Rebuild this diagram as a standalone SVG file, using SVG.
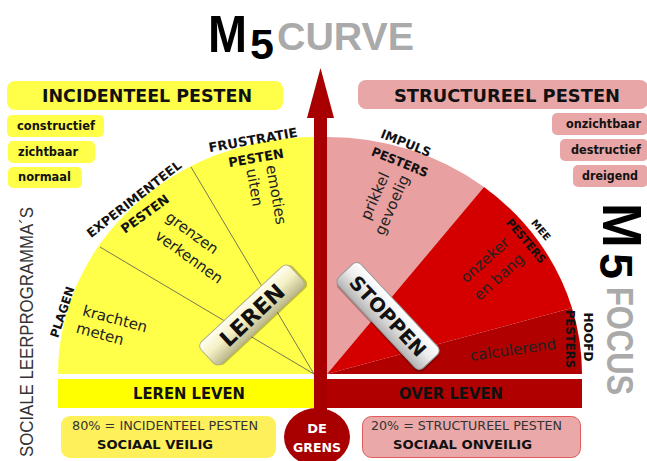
<svg xmlns="http://www.w3.org/2000/svg" width="647" height="461" viewBox="0 0 647 461">
<defs>
<style>
.b{font-family:"DejaVu Sans",Verdana,sans-serif;font-weight:bold;fill:#111}
.n{font-family:"DejaVu Sans",Verdana,sans-serif;fill:#222}
.t{font-family:"Liberation Sans",Arial,sans-serif;font-weight:bold}
.yb{fill:#ffff4a}
.pb{fill:#e8a6a6}
.ln{stroke:#555;stroke-width:0.8;fill:none}
</style>
<linearGradient id="gL" x1="0" y1="0" x2="0" y2="1">
<stop offset="0" stop-color="#fffef2"/><stop offset="0.45" stop-color="#f5f1c6"/><stop offset="1" stop-color="#bcb78a"/>
</linearGradient>
<linearGradient id="gS" x1="0" y1="0" x2="0" y2="1">
<stop offset="0" stop-color="#ffffff"/><stop offset="0.45" stop-color="#ececec"/><stop offset="1" stop-color="#b4b4b4"/>
</linearGradient>
</defs>
<rect width="647" height="461" fill="#fff"/>

<g id="title">
<text class="t" x="208" y="51.5" font-size="52" fill="#000" textLength="39" lengthAdjust="spacingAndGlyphs">M</text>
<text class="t" x="250" y="59" font-size="43" fill="#000">5</text>
<text class="t" x="277" y="50" font-size="39" fill="#aaa" textLength="137" lengthAdjust="spacingAndGlyphs">CURVE</text>
</g>

<g id="incidenteel-pesten">
<rect x="7" y="81" width="276" height="29" rx="8" class="yb"/>
<text class="b" x="147" y="102" font-size="17.5" text-anchor="middle" textLength="210" lengthAdjust="spacingAndGlyphs">INCIDENTEEL PESTEN</text>
</g>
<g id="constructief"><rect x="7" y="115" width="97" height="22" rx="5" class="yb"/><text class="b" x="17" y="130" font-size="11.5" textLength="78" lengthAdjust="spacingAndGlyphs">constructief</text></g>
<g id="zichtbaar"><rect x="8" y="141" width="87" height="22" rx="5" class="yb"/><text class="b" x="18" y="156" font-size="11.5" textLength="60" lengthAdjust="spacingAndGlyphs">zichtbaar</text></g>
<g id="normaal"><rect x="8" y="167" width="74" height="21" rx="5" class="yb"/><text class="b" x="18" y="181" font-size="11.5" textLength="53" lengthAdjust="spacingAndGlyphs">normaal</text></g>

<g id="structureel-pesten">
<rect x="358" y="80" width="290" height="29" rx="8" class="pb"/>
<text class="b" x="507" y="102" font-size="17.5" text-anchor="middle" textLength="226" lengthAdjust="spacingAndGlyphs">STRUCTUREEL PESTEN</text>
</g>
<g id="onzichtbaar"><rect x="552" y="113" width="96" height="22" rx="5" class="pb"/><text class="b" x="641" y="128" font-size="11.5" text-anchor="end" textLength="75" lengthAdjust="spacingAndGlyphs">onzichtbaar</text></g>
<g id="destructief"><rect x="560" y="139" width="88" height="22" rx="5" class="pb"/><text class="b" x="641" y="154" font-size="11.5" text-anchor="end" textLength="70" lengthAdjust="spacingAndGlyphs">destructief</text></g>
<g id="dreigend"><rect x="573" y="165" width="75" height="22" rx="5" class="pb"/><text class="b" x="638" y="180" font-size="11.5" text-anchor="end" textLength="56" lengthAdjust="spacingAndGlyphs">dreigend</text></g>

<g id="incidenteel-sector">
<path d="M314,374 L58,374 A256,237 0 0 1 314,137 Z" fill="#ffff4a"/>
<path class="ln" d="M100,247 L314,374 M191,167 L314,374"/>
<text class="b" transform="translate(253,140) rotate(-10)" y="4.5" font-size="13" text-anchor="middle" textLength="90" lengthAdjust="spacingAndGlyphs">FRUSTRATIE</text>
<text class="b" transform="translate(256,158) rotate(-10)" y="4.5" font-size="13" text-anchor="middle" textLength="56" lengthAdjust="spacingAndGlyphs">PESTEN</text>
<g transform="translate(266,166) rotate(80)">
<text class="n" x="0" y="0" font-size="15">emoties</text>
<text class="n" x="0" y="20" font-size="15">uiten</text>
</g>
<text class="b" transform="translate(134,199) rotate(-38)" y="4.5" font-size="12.5" text-anchor="middle" textLength="116" lengthAdjust="spacingAndGlyphs">EXPERIMENTEEL</text>
<text class="b" transform="translate(145,214) rotate(-36)" y="4.5" font-size="13" text-anchor="middle" textLength="56" lengthAdjust="spacingAndGlyphs">PESTEN</text>
<text class="n" transform="translate(192,233) rotate(36)" y="5" font-size="15" text-anchor="middle">grenzen</text>
<text class="n" transform="translate(189,257) rotate(36)" y="5" font-size="15" text-anchor="middle">verkennen</text>
<text class="b" transform="translate(62,312) rotate(-72)" y="4.5" font-size="12" text-anchor="middle" textLength="53" lengthAdjust="spacingAndGlyphs">PLAGEN</text>
<text class="n" transform="translate(115,319) rotate(15)" y="5" font-size="15" text-anchor="middle">krachten</text>
<text class="n" transform="translate(100,334) rotate(15)" y="5" font-size="15" text-anchor="middle">meten</text>
</g>

<g id="structureel-sector">
<path d="M327,374 L327,137 A255,237 0 0 1 484,187 Z" fill="#e8a0a0"/>
<path d="M327,374 L484,187 A255,237 0 0 1 572,308 Z" fill="#d40000"/>
<path d="M327,374 L572,308 A255,237 0 0 1 582,374 Z" fill="#b00000"/>
<text class="b" transform="translate(406,143) rotate(22)" y="4.5" font-size="12.5" text-anchor="middle" textLength="53" lengthAdjust="spacingAndGlyphs">IMPULS</text>
<text class="b" transform="translate(400,162) rotate(22)" y="4.5" font-size="12.5" text-anchor="middle" textLength="60" lengthAdjust="spacingAndGlyphs">PESTERS</text>
<text class="n" transform="translate(375,196) rotate(-66)" y="5" font-size="15" text-anchor="middle">prikkel</text>
<text class="n" transform="translate(392,205) rotate(-66)" y="5" font-size="15" text-anchor="middle">gevoelig</text>
<text class="b" transform="translate(541,230) rotate(50)" y="3.5" font-size="10" text-anchor="middle" textLength="24" lengthAdjust="spacingAndGlyphs">MEE</text>
<text class="b" transform="translate(526,241) rotate(50)" y="4" font-size="11.5" text-anchor="middle" textLength="54" lengthAdjust="spacingAndGlyphs">PESTERS</text>
<text class="n" transform="translate(485,260) rotate(-42)" y="5" font-size="15" text-anchor="middle">onzeker</text>
<text class="n" transform="translate(499,277) rotate(-42)" y="5" font-size="15" text-anchor="middle">en bang</text>
<text class="b" transform="translate(588,337) rotate(90)" y="4" font-size="12" text-anchor="middle" textLength="49" lengthAdjust="spacingAndGlyphs">HOOFD</text>
<text class="b" transform="translate(570,339) rotate(90)" y="4" font-size="12" text-anchor="middle" textLength="58" lengthAdjust="spacingAndGlyphs">PESTERS</text>
<text class="n" transform="translate(513,350) rotate(-8)" y="5" font-size="15" text-anchor="middle">calculerend</text>
</g>

<g id="leren-leven">
<rect x="58" y="379" width="256" height="29" fill="#ffff00"/>
<text class="b" x="189" y="399" font-size="15" text-anchor="middle" textLength="112" lengthAdjust="spacingAndGlyphs">LEREN LEVEN</text>
</g>
<g id="over-leven">
<rect x="327" y="379" width="255" height="29" fill="#b00000"/>
<text class="b" x="451" y="399" font-size="15" text-anchor="middle" textLength="104" lengthAdjust="spacingAndGlyphs">OVER LEVEN</text>
</g>

<g id="connectors">
<rect x="314" y="112" width="13" height="305" fill="#a80000"/>
<polygon points="320.5,68 334,118 307,118" fill="#a80000"/>
</g>

<g id="leren">
<g transform="translate(252,315) rotate(-43)">
<rect x="-59" y="-13" width="122" height="30" rx="6" fill="#000" opacity="0.25"/>
<rect x="-61" y="-15" width="122" height="30" rx="6" fill="url(#gL)" stroke="#b5b088" stroke-width="1"/>
<text class="b" x="0" y="8" font-size="22" text-anchor="middle" fill="#000">LEREN</text>
</g>
</g>
<g id="stoppen">
<g transform="translate(388,316) rotate(47)">
<rect x="-60" y="-13.5" width="124" height="31" rx="6" fill="#000" opacity="0.25"/>
<rect x="-62" y="-15.5" width="124" height="31" rx="6" fill="url(#gS)" stroke="#999" stroke-width="1"/>
<text class="b" x="0" y="7" font-size="19.5" text-anchor="middle" fill="#000">STOPPEN</text>
</g>
</g>

<g id="de-grens">
<ellipse cx="317" cy="437" rx="33" ry="29" fill="#a80000"/>
<text class="b" x="317" y="433" font-size="13" text-anchor="middle" style="fill:#fff">DE</text>
<text class="b" x="317" y="452" font-size="13" text-anchor="middle" style="fill:#fff" textLength="48" lengthAdjust="spacingAndGlyphs">GRENS</text>
</g>

<g id="sociaal-veilig">
<rect x="61" y="416" width="215" height="42" rx="9" fill="#fdf05a"/>
<text class="n" x="72" y="430" font-size="13" textLength="186" lengthAdjust="spacingAndGlyphs" style="fill:#333">80% = INCIDENTEEL PESTEN</text>
<text class="b" x="97" y="449" font-size="13" textLength="116" lengthAdjust="spacingAndGlyphs">SOCIAAL VEILIG</text>
</g>
<g id="sociaal-onveilig">
<rect x="362.5" y="416.5" width="218" height="41" rx="9" fill="#eba8a8" stroke="#e05a5a"/>
<text class="n" x="371" y="430" font-size="13" textLength="191" lengthAdjust="spacingAndGlyphs" style="fill:#333">20% = STRUCTUREEL PESTEN</text>
<text class="b" x="393" y="449" font-size="13" textLength="139" lengthAdjust="spacingAndGlyphs">SOCIAAL ONVEILIG</text>
</g>

<g id="m5focus" transform="translate(603,203) rotate(90)">
<text class="t" x="0" y="0" font-size="55" fill="#000" textLength="45" lengthAdjust="spacingAndGlyphs">M</text>
<text class="t" x="50" y="3" font-size="47" fill="#000">5</text>
<text class="t" x="84" y="-4" font-size="36" fill="#aaa" textLength="108" lengthAdjust="spacingAndGlyphs">FOCUS</text>
</g>

<g id="sociale-leerprogrammas" transform="translate(33,457) rotate(-90)">
<text x="0" y="0" font-family="'Liberation Sans',Arial,sans-serif" font-size="19" fill="#333" textLength="250" lengthAdjust="spacingAndGlyphs">SOCIALE LEERPROGRAMMA´S</text>
</g>
</svg>
